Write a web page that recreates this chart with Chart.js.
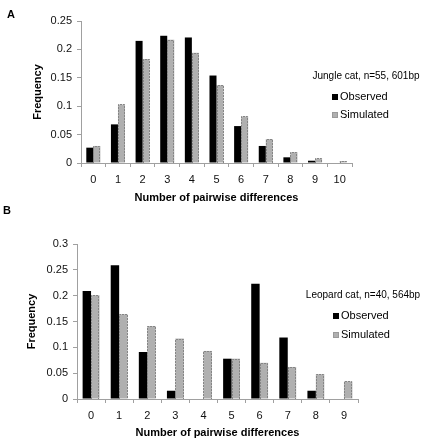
<!DOCTYPE html>
<html>
<head>
<meta charset="utf-8">
<script src="https://cdn.jsdelivr.net/npm/chart.js@4/dist/chart.umd.min.js"></script>
<style>
  html, body { margin: 0; padding: 0; background: #fff; }
  #wrap { position: relative; width: 425px; height: 440px; overflow: hidden; }
  canvas { position: absolute; left: 0; }
  #cA { top: 0; }
  #cB { top: 205px; }
</style>
</head>
<body>
<div id="wrap">
  <canvas id="cA" width="425" height="205"></canvas>
  <canvas id="cB" width="425" height="235"></canvas>
</div>
<script>
// ---- Data ----
const categoriesA = ['0', '1', '2', '3', '4', '5', '6', '7', '8', '9', '10'];
const observedA  = [0.027, 0.068, 0.215, 0.224, 0.221, 0.154, 0.065, 0.030, 0.010, 0.004, 0];
const simulatedA = [0.030, 0.103, 0.183, 0.217, 0.194, 0.137, 0.082, 0.042, 0.019, 0.008, 0.0035];

const categoriesB = ['0', '1', '2', '3', '4', '5', '6', '7', '8', '9'];
const observedB  = [0.209, 0.259, 0.091, 0.016, 0, 0.078, 0.223, 0.119, 0.016, 0];
const simulatedB = [0.201, 0.164, 0.141, 0.117, 0.093, 0.078, 0.070, 0.062, 0.048, 0.034];

const seriesNames = ['Observed', 'Simulated'];
const yTicksA = { max: 0.25, step: 0.05 };
const yTicksB = { max: 0.3, step: 0.05 };
const legendTitleA = 'Jungle cat, n=55, 601bp';
const legendTitleB = 'Leopard cat, n=40, 564bp';
const xTitle = 'Number of pairwise differences';
const yTitle = 'Frequency';

// ---- Styles ----
const FONT = "'Liberation Sans', Arial, sans-serif";
const AXIS_COLOR = '#a0a0a0';
const GRAY_FILL = '#b0b0b0';
const GRAY_EDGE = '#858585';

// dashed outline for simulated bars, using the library's computed bar geometry
const dashedOutline = {
  id: 'dashedOutline',
  afterDatasetsDraw(chart) {
    const ctx = chart.ctx;
    const meta = chart.getDatasetMeta(1);
    ctx.save();
    ctx.strokeStyle = GRAY_EDGE;
    ctx.lineWidth = 1;
    ctx.setLineDash([2, 1]);
    meta.data.forEach(bar => {
      const p = bar.getProps(['x', 'y', 'base', 'width'], true);
      if (Math.abs(p.base - p.y) < 0.5) return;
      const l = Math.round(p.x - p.width / 2) + 0.5;
      const r = Math.round(p.x + p.width / 2) - 0.5;
      const t = Math.round(p.y) + 0.5;
      const b = Math.round(p.base);
      ctx.beginPath();
      ctx.moveTo(l, b); ctx.lineTo(l, t); ctx.lineTo(r, t); ctx.lineTo(r, b);
      ctx.stroke();
    });
    ctx.restore();
  }
};

// custom legend + panel letter
const customLegend = {
  id: 'customLegend',
  afterDraw(chart, args, o) {
    const ctx = chart.ctx;
    ctx.save();
    ctx.fillStyle = '#000';
    ctx.textBaseline = 'middle';
    ctx.font = 'bold 11px ' + FONT;
    ctx.textAlign = 'left';
    ctx.fillText(o.panel, o.panelX, o.panelY);
    ctx.font = '10px ' + FONT;
    ctx.textAlign = 'center';
    ctx.fillText(o.title, o.titleX, o.titleY);
    ctx.textAlign = 'left';
    ctx.font = '11px ' + FONT;
    chart.data.datasets.forEach((ds, i) => {
      const y = o.itemY[i];
      ctx.fillStyle = ds.backgroundColor;
      ctx.fillRect(o.boxX, y - 3, 6, 6);
      if (i === 1) {
        ctx.strokeStyle = GRAY_EDGE;
        ctx.lineWidth = 1;
        ctx.setLineDash([1, 1]);
        ctx.strokeRect(o.boxX + 0.5, y - 2.5, 5, 5);
        ctx.setLineDash([]);
      }
      ctx.fillStyle = '#000';
      ctx.fillText(ds.label, o.boxX + 8, y);
    });
    ctx.restore();
  }
};

function makeChart(id, cats, obs, sim, yt, geo, legendOpts) {
  return new Chart(document.getElementById(id), {
    type: 'bar',
    data: {
      labels: cats,
      datasets: [
        { label: seriesNames[0], data: obs, backgroundColor: '#000000', borderWidth: 0 },
        { label: seriesNames[1], data: sim, backgroundColor: GRAY_FILL, borderWidth: 0 }
      ]
    },
    options: {
      responsive: false,
      animation: false,
      devicePixelRatio: 1,
      layout: { padding: { left: geo.padLeft, right: geo.padRight, top: geo.padTop, bottom: 0 } },
      datasets: { bar: { categoryPercentage: geo.catPct, barPercentage: 1.0 } },
      plugins: {
        legend: { display: false },
        tooltip: { enabled: false },
        customLegend: legendOpts
      },
      scales: {
        x: {
          grid: { display: true, offset: true, drawOnChartArea: false, drawTicks: true, tickLength: 4, color: AXIS_COLOR },
          border: { display: true, color: AXIS_COLOR },
          ticks: { color: '#111', font: { family: FONT, size: 11 }, padding: 6, maxRotation: 0 },
          title: { display: true, text: xTitle, color: '#000', font: { family: FONT, size: 11, weight: 'bold' }, padding: { top: 0, bottom: 0 } },
          afterFit(s) { s.height = geo.xHeight; }
        },
        y: {
          min: 0, max: yt.max,
          grid: { display: true, drawOnChartArea: false, drawTicks: true, tickLength: 4, color: AXIS_COLOR },
          border: { display: true, color: AXIS_COLOR },
          ticks: {
            stepSize: yt.step, color: '#111', font: { family: FONT, size: 11 }, padding: 5,
            callback: v => String(+Number(v).toFixed(2))
          },
          title: { display: true, text: yTitle, color: '#000', font: { family: FONT, size: 11, weight: 'bold' }, padding: { top: 0, bottom: 0 } },
          afterFit(s) { s.width = geo.yWidth; }
        }
      }
    },
    plugins: [dashedOutline, customLegend]
  });
}

makeChart('cA', categoriesA, observedA, simulatedA, yTicksA,
  { padLeft: 31, padRight: 73, padTop: 21, xHeight: 42, yWidth: 50, catPct: 0.57 },
  { panel: 'A', panelX: 7, panelY: 15, title: legendTitleA, titleX: 366, titleY: 76,
    boxX: 332, itemY: [97, 115] });

makeChart('cB', categoriesB, observedB, simulatedB, yTicksB,
  { padLeft: 25, padRight: 67, padTop: 39, xHeight: 41, yWidth: 52, catPct: 0.6 },
  { panel: 'B', panelX: 3, panelY: 6, title: legendTitleB, titleX: 363, titleY: 90,
    boxX: 333, itemY: [111, 130] });
</script>
</body>
</html>
